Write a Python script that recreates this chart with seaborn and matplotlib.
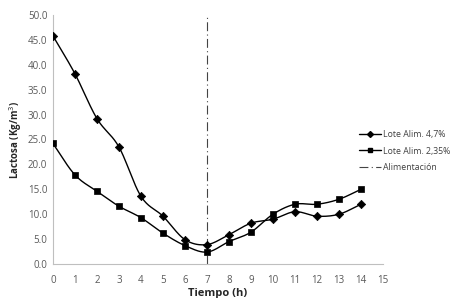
import numpy as np
import pandas as pd
import matplotlib
matplotlib.use("Agg")
import matplotlib.pyplot as plt
from matplotlib.lines import Line2D
import seaborn as sns

# Lactosa (Kg/m3) por hora
tiempo = list(range(15))
lote_47 = [45.8, 38.2, 29.2, 23.5, 13.6, 9.6, 4.9, 3.9, 5.9, 8.2, 9.0, 10.5, 9.6, 10.0, 12.0]
lote_235 = [24.2, 17.9, 14.6, 11.6, 9.3, 6.2, 3.7, 2.4, 4.5, 6.4, 10.0, 12.0, 12.0, 13.0, 15.0]
alimentacion_t = 7


def smooth(x, y, n=20):
    # catmull-rom, como el suavizado de Excel
    x = np.asarray(x, float)
    y = np.asarray(y, float)
    px = np.concatenate([[2 * x[0] - x[1]], x, [2 * x[-1] - x[-2]]])
    py = np.concatenate([[2 * y[0] - y[1]], y, [2 * y[-1] - y[-2]]])
    xs, ys = [], []
    for i in range(1, len(px) - 2):
        t = np.linspace(0, 1, n, endpoint=False)
        for arr, out in ((px, xs), (py, ys)):
            p0, p1, p2, p3 = arr[i - 1], arr[i], arr[i + 1], arr[i + 2]
            out.extend(0.5 * (2 * p1 + (-p0 + p2) * t
                              + (2 * p0 - 5 * p1 + 4 * p2 - p3) * t ** 2
                              + (-p0 + 3 * p1 - 3 * p2 + p3) * t ** 3))
    xs.append(x[-1])
    ys.append(y[-1])
    return np.array(xs), np.array(ys)


sns.set_style("white")
plt.rcParams["font.family"] = ["Open Sans", "DejaVu Sans"]

fig = plt.figure(figsize=(4.56, 2.98), dpi=100)
ax = fig.add_axes([0.116, 0.114, 0.724, 0.836])

df = pd.DataFrame({"t": tiempo, "a": lote_47, "b": lote_235})

for col, mk, ms in (("a", "D", 18), ("b", "s", 16)):
    sx, sy = smooth(df["t"], df[col])
    sns.lineplot(x=sx, y=sy, ax=ax, color="black", linewidth=1.0, sort=False)
    sns.scatterplot(data=df, x="t", y=col, ax=ax, marker=mk, s=ms,
                    color="black", edgecolor="black", linewidth=0.5, zorder=3)

ax.axvline(alimentacion_t, color="#444444", linewidth=0.8, linestyle=(0, (8, 3, 1, 3)))

ax.set_xlim(0, 15)
ax.set_ylim(0, 50)
ax.set_xticks(range(0, 16))
ax.set_yticks(np.arange(0, 50.1, 5))
ax.set_yticklabels([f"{v:.1f}" for v in np.arange(0, 50.1, 5)])
ax.tick_params(axis="both", length=0, labelsize=7, colors="#595959", pad=8)
ax.tick_params(axis="y", pad=4)

for s in ("top", "right"):
    ax.spines[s].set_visible(False)
for s in ("left", "bottom"):
    ax.spines[s].set_color("#bfbfbf")
    ax.spines[s].set_linewidth(0.8)

ax.set_xlabel("Tiempo (h)", fontsize=8, fontweight="bold", color="#262626", labelpad=1)
ax.set_ylabel("Lactosa (Kg/m$^3$)", fontsize=7, fontweight="bold", color="#262626", labelpad=3)

handles = [
    Line2D([], [], color="black", linewidth=1.0, marker="D", markersize=3),
    Line2D([], [], color="black", linewidth=1.0, marker="s", markersize=3),
    Line2D([], [], color="#444444", linewidth=0.8, linestyle=(0, (8, 3, 1, 3))),
]
fig.legend(handles, ["Lote Alim. 4,7%", "Lote Alim. 2,35%", "Alimentación"],
           loc="upper left", bbox_to_anchor=(0.787, 0.565), frameon=False,
           borderpad=0, borderaxespad=0,
           fontsize=6.3, labelcolor="#404040", handlelength=2.5, handletextpad=0.3,
           labelspacing=0.9)

fig.savefig("out.png", dpi=100)
